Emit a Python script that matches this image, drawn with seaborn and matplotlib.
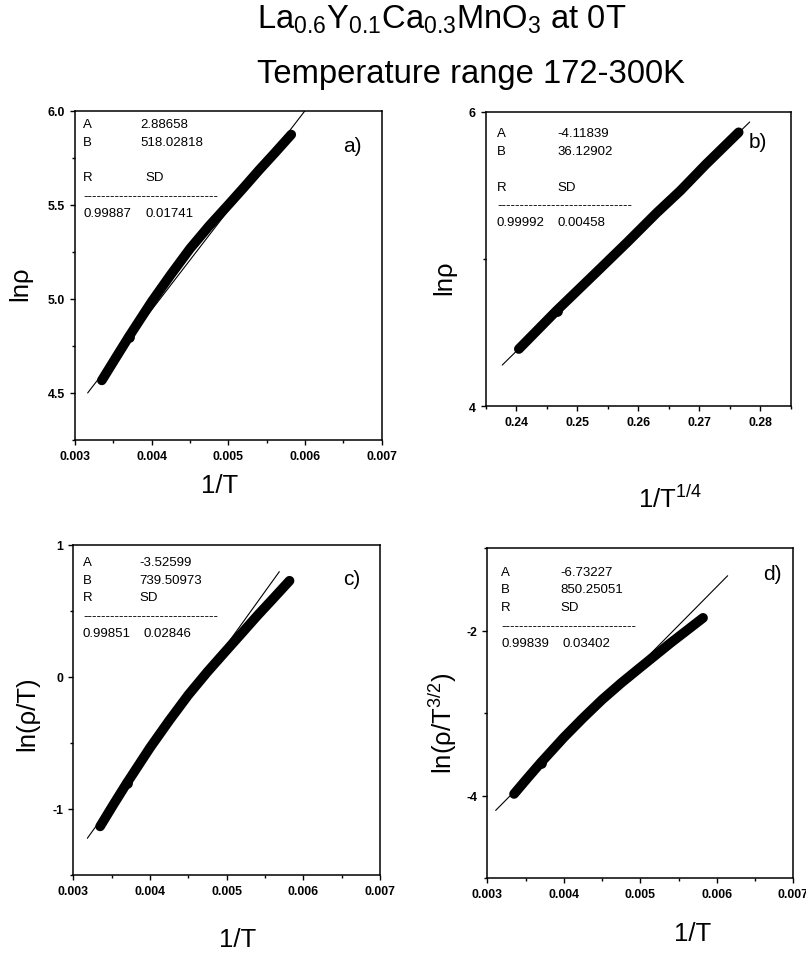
import numpy as np
import pandas as pd
import matplotlib
matplotlib.use("Agg")
import matplotlib.pyplot as plt
import seaborn as sns

# ---------------- data ----------------
inv_T = [0.00335, 0.00352, 0.00370, 0.00400, 0.00425, 0.00450,
         0.00475, 0.00500, 0.00520, 0.00540, 0.00560, 0.00582]
ln_rho = [4.567, 4.679, 4.797, 4.985, 5.129, 5.267,
          5.388, 5.500, 5.591, 5.684, 5.773, 5.873]
ln_rho_T = [-1.132, -0.970, -0.803, -0.537, -0.332, -0.137,
            0.038, 0.202, 0.332, 0.463, 0.588, 0.727]
ln_rho_T32 = [-3.981, -3.795, -3.602, -3.297, -3.062, -2.839,
              -2.637, -2.448, -2.298, -2.148, -2.005, -1.847]

inv_T14 = [0.24043, 0.2466, 0.2530, 0.25817, 0.2630, 0.26689, 0.2710, 0.27643]
ln_rho_b = [4.389, 4.649, 4.905, 5.113, 5.313, 5.464, 5.640, 5.860]

fit_a_x, fit_a_y = [0.003165, 0.00600], [4.50, 6.00]
fit_b_x, fit_b_y = [0.23771, 0.27823], [4.28, 5.93]
fit_c_x, fit_c_y = [0.003183, 0.005687], [-1.222, 0.796]
fit_d_x, fit_d_y = [0.003109, 0.006142], [-4.181, -1.336]

fit_params = {
    "a": ("2.88658", "518.02818", "0.99887", "0.01741"),
    "b": ("-4.11839", "36.12902", "0.99992", "0.00458"),
    "c": ("-3.52599", "739.50973", "0.99851", "0.02846"),
    "d": ("-6.73227", "850.25051", "0.99839", "0.03402"),
}

xticks_T = [0.003, 0.004, 0.005, 0.006, 0.007]
xticklabels_T = ["0.003", "0.004", "0.005", "0.006", "0.007"]
xticks_b = [0.24, 0.25, 0.26, 0.27, 0.28]
xticklabels_b = ["0.24", "0.25", "0.26", "0.27", "0.28"]

# ---------------- style ----------------
sns.set_theme(style="ticks")
plt.rcParams["font.family"] = ["Liberation Sans", "DejaVu Sans"]
plt.rcParams["mathtext.fontset"] = "custom"
plt.rcParams["mathtext.rm"] = "Liberation Sans"
plt.rcParams["mathtext.it"] = "Liberation Sans"
plt.rcParams["mathtext.bf"] = "Liberation Sans:bold"

W, H = 806, 954
fig = plt.figure(figsize=(W / 100, H / 100), dpi=100)


def add_ax(l, t, r, b):
    return fig.add_axes([l / W, 1 - b / H, (r - l) / W, (b - t) / H])


def ftxt(x, y, s, **kw):
    kw.setdefault("va", "center")
    kw.setdefault("ha", "left")
    kw.setdefault("color", "black")
    return fig.text(x / W, 1 - y / H, s, **kw)


ax_a = add_ax(75, 111.7, 381.7, 441)
ax_b = add_ax(485.7, 112.7, 791, 407.3)
ax_c = add_ax(73.3, 545.7, 380, 876)
ax_d = add_ax(487.3, 549, 793.3, 879)

panels = [
    (ax_a, inv_T, ln_rho, fit_a_x, fit_a_y, 2),
    (ax_b, inv_T14, ln_rho_b, fit_b_x, fit_b_y, 1),
    (ax_c, inv_T, ln_rho_T, fit_c_x, fit_c_y, 2),
    (ax_d, inv_T, ln_rho_T32, fit_d_x, fit_d_y, 2),
]

for ax, xs, ys, fx, fy, kink in panels:
    df = pd.DataFrame({"x": xs, "y": ys})
    sns.lineplot(data=df, x="x", y="y", ax=ax, color="black", linewidth=7,
                 estimator=None, sort=False, solid_capstyle="round",
                 solid_joinstyle="round")
    # slight bulge where the two measurement runs join
    sns.scatterplot(data=df.iloc[[kink]], x="x", y="y", ax=ax, color="black",
                    s=60, edgecolor="black", linewidth=0, zorder=3)
    dfl = pd.DataFrame({"x": fx, "y": fy})
    sns.lineplot(data=dfl, x="x", y="y", ax=ax, color="black", linewidth=0.8,
                 estimator=None, sort=False)
    ax.set_xlabel("")
    ax.set_ylabel("")
    for s in ax.spines.values():
        s.set_visible(True)
        s.set_linewidth(1.1)
        s.set_color("black")
    ax.tick_params(axis="both", which="both", direction="out", colors="black",
                   labelsize=8.8, top=False, right=False)
    ax.tick_params(which="major", length=3.5, width=1.0)
    ax.tick_params(which="minor", length=2.5, width=1.0)
    ax.set_facecolor("white")

# axis ranges / ticks
for ax in (ax_a, ax_c, ax_d):
    ax.set_xlim(0.003, 0.007)
    ax.set_xticks(xticks_T)
    ax.set_xticklabels(xticklabels_T)
    ax.set_xticks([0.0035, 0.0045, 0.0055, 0.0065], minor=True)

ax_b.set_xlim(0.235, 0.285)
ax_b.set_xticks(xticks_b)
ax_b.set_xticklabels(xticklabels_b)
ax_b.set_xticks([0.235, 0.245, 0.255, 0.265, 0.275, 0.285], minor=True)

ax_a.set_ylim(4.25, 6.0)
ax_a.set_yticks([4.5, 5.0, 5.5, 6.0])
ax_a.set_yticklabels(["4.5", "5.0", "5.5", "6.0"])
ax_a.set_yticks([4.25, 4.75, 5.25, 5.75], minor=True)

ax_b.set_ylim(4, 6)
ax_b.set_yticks([4, 6])
ax_b.set_yticklabels(["4", "6"])
ax_b.set_yticks([5], minor=True)

ax_c.set_ylim(-1.5, 1)
ax_c.set_yticks([-1, 0, 1])
ax_c.set_yticklabels(["-1", "0", "1"])
ax_c.set_yticks([-1.5, -0.5, 0.5], minor=True)

ax_d.set_ylim(-5, -1)
ax_d.set_yticks([-4, -2])
ax_d.set_yticklabels(["-4", "-2"])
ax_d.set_yticks([-5, -3, -1], minor=True)

for ax in (ax_a, ax_b, ax_c, ax_d):
    for lab in ax.get_xticklabels() + ax.get_yticklabels():
        lab.set_fontweight("bold")

# ---------------- fit-result boxes ----------------
FS = 9.5
DASH = "-" * 30


def fit_box(key, x1, x2, x2b, ys, rsd_x, dash_x0):
    A, B, R, SD = fit_params[key]
    yA, yB, yR, yD, yV = ys
    ftxt(x1, yA, "A", fontsize=FS)
    ftxt(x2, yA, A, fontsize=FS)
    ftxt(x1, yB, "B", fontsize=FS)
    ftxt(x2, yB, B, fontsize=FS)
    ftxt(x1, yR, "R", fontsize=FS)
    ftxt(rsd_x, yR, "SD", fontsize=FS)
    ftxt(dash_x0, yD, DASH, fontsize=FS)
    ftxt(x1, yV, R, fontsize=FS)
    ftxt(x2b, yV, SD, fontsize=FS)


fit_box("a", 83.3, 140, 145, (125, 142.7, 178.3, 196.7, 214), 145, 83)
fit_box("b", 496.7, 557.3, 557.3, (134, 151.7, 187.7, 205.7, 223.3), 557.3, 497)
fit_box("c", 82.7, 139.3, 144, (563.3, 580.7, 598.3, 616.7, 634), 139.3, 83)
fit_box("d", 501, 560, 562.7, (572.7, 590, 608.3, 626.7, 644), 560, 501)

ftxt(343, 146.7, "a)", fontsize=15)
ftxt(749, 142.7, "b)", fontsize=15)
ftxt(343, 579.3, "c)", fontsize=15)
ftxt(762.7, 575, "d)", fontsize=15)

# ---------------- axis labels ----------------
LFS = 18.5
ftxt(220, 486, "1/T", fontsize=LFS, ha="center")
ftxt(670, 499, r"1/T$^{\mathregular{1/4}}$", fontsize=LFS, ha="center")
ftxt(238, 940, "1/T", fontsize=LFS, ha="center")
ftxt(693, 934, "1/T", fontsize=LFS, ha="center")

ftxt(20, 284, "ln\u03c1", fontsize=LFS, ha="center", rotation=90)
ftxt(444, 278, "ln\u03c1", fontsize=LFS, ha="center", rotation=90)
ftxt(27, 714, "ln(\u03c1/T)", fontsize=LFS, ha="center", rotation=90)
ftxt(443, 723, r"ln($\mathregular{\rho}$/T$^{\mathregular{3/2}}$)", fontsize=LFS,
     ha="center", rotation=90)

# ---------------- title ----------------
TFS = 23.6
ftxt(257, 20,
     r"La$_{\mathregular{0.6}}$Y$_{\mathregular{0.1}}$Ca$_{\mathregular{0.3}}$"
     r"MnO$_{\mathregular{3}}$ at 0T", fontsize=TFS)
ftxt(257, 74, "Temperature range 172-300K", fontsize=TFS)

fig.savefig("out.png", dpi=100, facecolor="white")
